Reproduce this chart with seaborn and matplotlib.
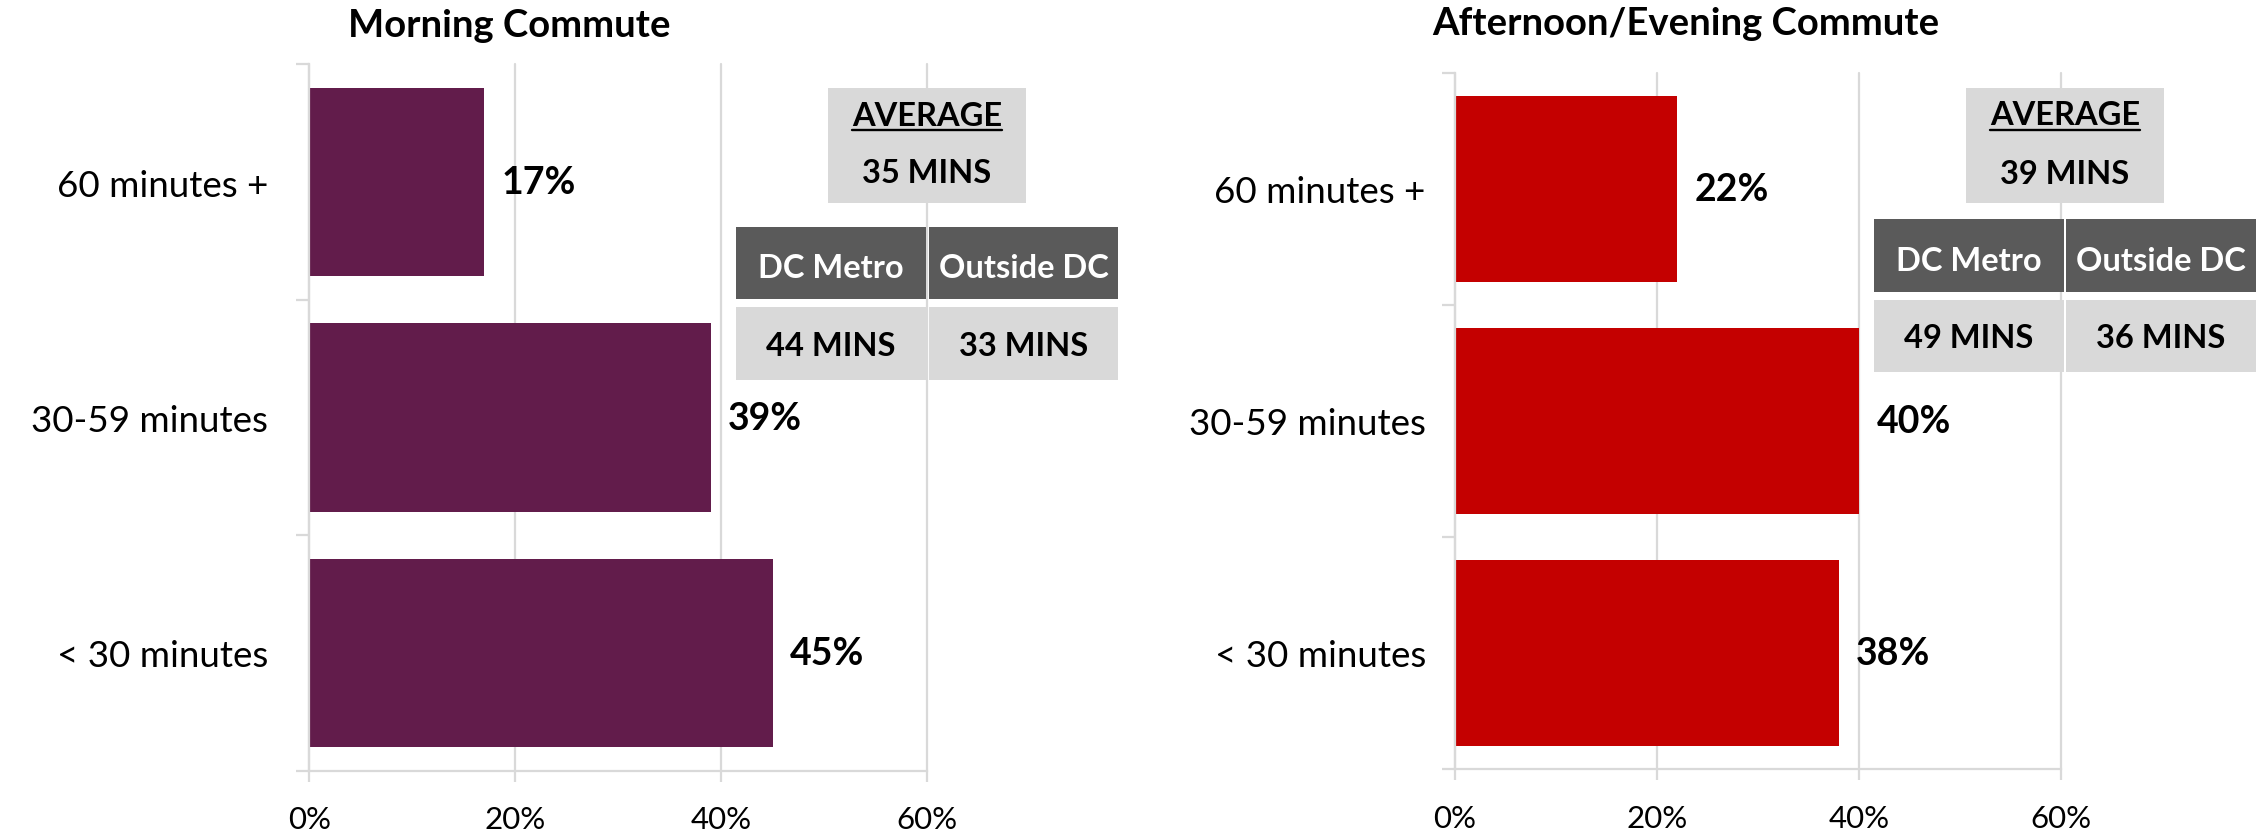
import matplotlib
matplotlib.use("Agg")
import matplotlib.pyplot as plt
import seaborn as sns
import pandas as pd
from matplotlib.patches import Rectangle
from matplotlib.lines import Line2D

# ---------------- data ----------------
categories = ["60 minutes +", "30-59 minutes", "< 30 minutes"]
morning_pct = [17, 39, 45]
evening_pct = [22, 40, 38]
x_ticks = [0, 20, 40, 60]
x_tick_labels = ["0%", "20%", "40%", "60%"]
titles = ["Morning Commute", "Afternoon/Evening Commute"]
avg_title = "AVERAGE"
morning_avg = "35 MINS"
evening_avg = "39 MINS"
region_headers = ["DC Metro", "Outside DC"]
morning_region = ["44 MINS", "33 MINS"]
evening_region = ["49 MINS", "36 MINS"]

# ---------------- style ----------------
MORNING_COLOR = "#621C4B"
EVENING_COLOR = "#C40000"
GRID = "#D9D9D9"
DARK = "#5A5A5A"
LIGHT = "#D9D9D9"

W, H = 2262, 837
DPI = 100

sns.set_theme(style="white")
plt.rcParams["font.family"] = ["Lato", "DejaVu Sans"]

fig = plt.figure(figsize=(W / DPI, H / DPI), dpi=DPI)


def px_rect(x0, y0, x1, y1):
    """pixel box (from top-left) -> figure fraction [left, bottom, width, height]"""
    return [x0 / W, 1 - y1 / H, (x1 - x0) / W, (y1 - y0) / H]


ax1 = fig.add_axes(px_rect(309.3, 65.4, 927, 771.6))
ax2 = fig.add_axes(px_rect(1455, 73.7, 2061, 770))


def draw_panel(ax, values, color, ypad):
    df = pd.DataFrame({"category": categories, "pct": values})
    sns.barplot(data=df, x="pct", y="category", orient="h", color=color,
                width=0.8, saturation=1, errorbar=None, edgecolor="none",
                ax=ax)
    ax.set_xlim(0, 60)
    ax.set_ylim(2.5, -0.5)
    ax.set_xticks(x_ticks)
    ax.set_xticklabels(x_tick_labels)
    ax.set_xlabel("")
    ax.set_ylabel("")
    ax.grid(axis="x", color=GRID, linewidth=1.6)
    ax.grid(axis="y", visible=False)
    ax.set_axisbelow(True)
    for gl in ax.get_xgridlines():
        gl.set_clip_on(False)
    for s in ["top", "right"]:
        ax.spines[s].set_visible(False)
    for s in ["left", "bottom"]:
        ax.spines[s].set_color(GRID)
        ax.spines[s].set_linewidth(1.6)
    ax.set_yticks([-0.5, 0.5, 1.5, 2.5], minor=True)
    ax.tick_params(axis="y", which="minor", length=9.5, width=1.6,
                   color=GRID, left=True)
    ax.tick_params(axis="y", which="major", length=0, pad=ypad,
                   labelsize=26.5, labelcolor="black", left=True)
    ax.tick_params(axis="x", which="major", length=8, width=1.6, color=GRID,
                   pad=17, labelsize=22.5, labelcolor="black", bottom=True)
    ax.bar_label(ax.containers[0], fmt="%d%%", padding=12.5, fontsize=27,
                 fontweight="bold", color="black")


draw_panel(ax1, morning_pct, MORNING_COLOR, 29.5)
draw_panel(ax2, evening_pct, EVENING_COLOR, 21)

# titles
fig.text(509 / W, 1 - 37 / H, titles[0], ha="center", va="baseline",
         fontsize=27.5, fontweight="bold", color="black")
fig.text(1686 / W, 1 - 35 / H, titles[1], ha="center", va="baseline",
         fontsize=27.5, fontweight="bold", color="black")


def box(x0, y0, x1, y1, fc):
    fig.add_artist(Rectangle((x0 / W, 1 - y1 / H), (x1 - x0) / W, (y1 - y0) / H,
                             transform=fig.transFigure, facecolor=fc,
                             edgecolor="none", zorder=5))


def label(cx, baseline, s, color="black"):
    return fig.text(cx / W, 1 - baseline / H, s, ha="center", va="baseline",
                    fontsize=23.5, fontweight="bold", color=color, zorder=6)


underlines = []


def draw_table(avg_x, avg_y, hdr_y, val_y, cells, avg_value, region_values,
               base_avg_t, base_avg_v, base_hdr, base_val, ul_y):
    box(avg_x[0], avg_y[0], avg_x[1], avg_y[1], LIGHT)
    cx = (avg_x[0] + avg_x[1]) / 2
    t = label(cx, base_avg_t, avg_title)
    underlines.append((t, ul_y))
    label(cx, base_avg_v, avg_value)
    for (c0, c1), head, val in zip(cells, region_headers, region_values):
        box(c0, hdr_y[0], c1, hdr_y[1], DARK)
        box(c0, val_y[0], c1, val_y[1], LIGHT)
        ccx = (c0 + c1) / 2
        label(ccx, base_hdr, head, color="white")
        label(ccx, base_val, val)


draw_table((828, 1026), (89, 204), (228, 300), (308, 381),
           [(736, 926), (929, 1118)], morning_avg, morning_region,
           126, 183, 278, 356, 131)
draw_table((1966, 2164), (89, 204), (220, 293), (301, 373),
           [(1874, 2064), (2066, 2256)], evening_avg, evening_region,
           125, 184, 271, 348, 131)

fig.canvas.draw()
renderer = fig.canvas.get_renderer()
for t, uy in underlines:
    bb = t.get_window_extent(renderer)
    fig.add_artist(Line2D([bb.x0 / W, bb.x1 / W], [1 - uy / H] * 2,
                          transform=fig.transFigure, color="black",
                          linewidth=1.7, zorder=7))

fig.savefig("out.png", dpi=DPI)
